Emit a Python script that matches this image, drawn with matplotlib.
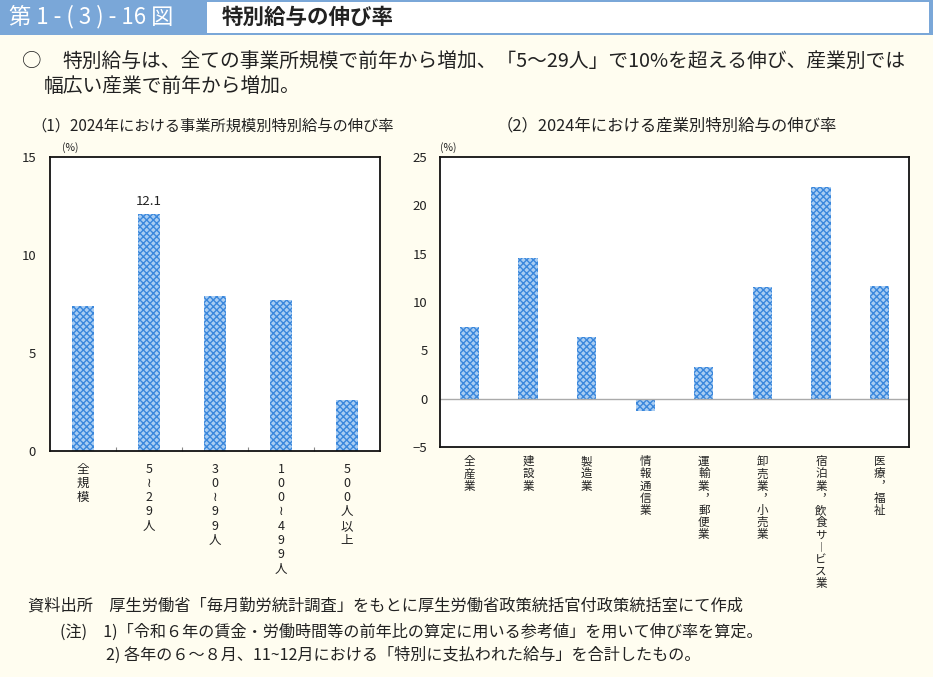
import matplotlib
matplotlib.use('Agg')
import matplotlib.pyplot as plt
from matplotlib.patches import Rectangle

plt.rcParams['font.family'] = ['Noto Sans CJK JP', 'DejaVu Sans']
plt.rcParams['hatch.linewidth'] = 1.0

# data
size_labels = ['全規模', '5≀29人', '30≀99人', '100≀499人', '500人以上']
size_values = [7.4, 12.1, 7.9, 7.7, 2.6]
industry_labels = ['全産業', '建設業', '製造業', '情報通信業', '運輸業︐郵便業',
                   '卸売業︐小売業', '宿泊業︐飲食サ︱ビス業', '医療︐福祉']
industry_values = [7.4, 14.6, 6.4, -1.3, 3.3, 11.6, 21.9, 11.7]

W, H = 933, 677
BG = '#fffdf0'
BLUE = '#7aa7d8'
BAR_FACE = '#a9cdf3'
BAR_EDGE = '#3a87dc'
TXT = '#222222'


def fx(px):
    return px / W


def fy(py):
    return 1 - py / H


def vertical_label(ax, x, text, first, pitch, size):
    # stack characters one by one under the axis (offsets in points)
    for k, ch in enumerate(text):
        ax.annotate(ch, xy=(x, 0), xycoords=('data', 'axes fraction'),
                    xytext=(0, -first - k * pitch), textcoords='offset points',
                    ha='center', va='center', fontsize=size, color=TXT,
                    annotation_clip=False)


fig = plt.figure(figsize=(W / 100, H / 100), dpi=100, facecolor=BG)

# header band
fig.add_artist(Rectangle((0, fy(35)), 1, 35 / H, transform=fig.transFigure,
                         facecolor=BLUE, edgecolor='none'))
fig.add_artist(Rectangle((fx(207), fy(33)), fx(722), 31 / H, transform=fig.transFigure,
                         facecolor='white', edgecolor='none'))
fig.text(fx(9), fy(17), '第 1 - ( 3 ) - 16 図', color='white', fontsize=16, va='center')
fig.text(fx(222), fy(17), '特別給与の伸び率', color=TXT, fontsize=15.5,
         fontweight='bold', va='center')

# summary
fig.text(fx(22), fy(62), '○', fontsize=14, va='center', color=TXT)
fig.text(fx(62), fy(62), '特別給与は、全ての事業所規模で前年から増加、「5～29人」で10%を超える伸び、産業別では',
         fontsize=14.2, va='center', color=TXT)
fig.text(fx(44), fy(86), '幅広い産業で前年から増加。', fontsize=14.2, va='center', color=TXT)

# panel titles
fig.text(fx(213), fy(126), '（1）2024年における事業所規模別特別給与の伸び率', fontsize=11,
         ha='center', va='center', color=TXT)
fig.text(fx(667), fy(126), '（2）2024年における産業別特別給与の伸び率', fontsize=11.8,
         ha='center', va='center', color=TXT)


def style_axes(ax, pad):
    ax.set_facecolor('white')
    for sp in ax.spines.values():
        sp.set_linewidth(1.3)
        sp.set_color('#111111')
    ax.tick_params(axis='y', length=0, labelsize=9.5, pad=pad, colors=TXT)


# left panel
ax1 = fig.add_axes([fx(50), fy(451), fx(330), 294 / H])
style_axes(ax1, 10)
x1 = range(len(size_values))
ax1.bar(x1, size_values, width=0.33, facecolor=BAR_FACE, edgecolor=BAR_EDGE,
        hatch='xxxxx', linewidth=0)
ax1.set_xlim(-0.5, len(size_values) - 0.5)
ax1.set_ylim(0, 15)
ax1.set_yticks([0, 5, 10, 15])
ax1.set_xticks([i + 0.5 for i in range(len(size_values) - 1)])
ax1.set_xticklabels([])
ax1.tick_params(axis='x', direction='in', length=3, color='#888888')
for i, lab in enumerate(size_labels):
    vertical_label(ax1, i, lab, first=13, pitch=10.3, size=9)
ax1.text(1, size_values[1] + 0.3, '12.1', ha='center', va='bottom', fontsize=9.5,
         color=TXT)
fig.text(fx(62), fy(148), '(%)', fontsize=7.5, va='center', color=TXT)

# right panel
ax2 = fig.add_axes([fx(440), fy(447), fx(469), 290 / H])
style_axes(ax2, 9)
x2 = range(len(industry_values))
ax2.bar(x2, industry_values, width=0.33, facecolor=BAR_FACE, edgecolor=BAR_EDGE,
        hatch='xxxxx', linewidth=0)
ax2.axhline(0, color='#aaaaaa', linewidth=1)
ax2.set_xlim(-0.5, len(industry_values) - 0.5)
ax2.set_ylim(-5, 25)
ax2.set_yticks(range(-5, 26, 5))
ax2.set_xticks([])
for i, lab in enumerate(industry_labels):
    vertical_label(ax2, i, lab, first=10.5, pitch=8.8, size=8.3)
fig.text(fx(440), fy(148), '(%)', fontsize=7.5, va='center', color=TXT)

# footer
fig.text(fx(28), fy(606), '資料出所　厚生労働省「毎月勤労統計調査」をもとに厚生労働省政策統括官付政策統括室にて作成',
         fontsize=11.7, va='center', color=TXT)
fig.text(fx(60), fy(632), '(注)　1)「令和６年の賃金・労働時間等の前年比の算定に用いる参考値」を用いて伸び率を算定。',
         fontsize=11.6, va='center', color=TXT)
fig.text(fx(106), fy(655), '2) 各年の６～８月、11~12月における「特別に支払われた給与」を合計したもの。',
         fontsize=11.6, va='center', color=TXT)

fig.savefig('out.png', dpi=100, facecolor=BG)
